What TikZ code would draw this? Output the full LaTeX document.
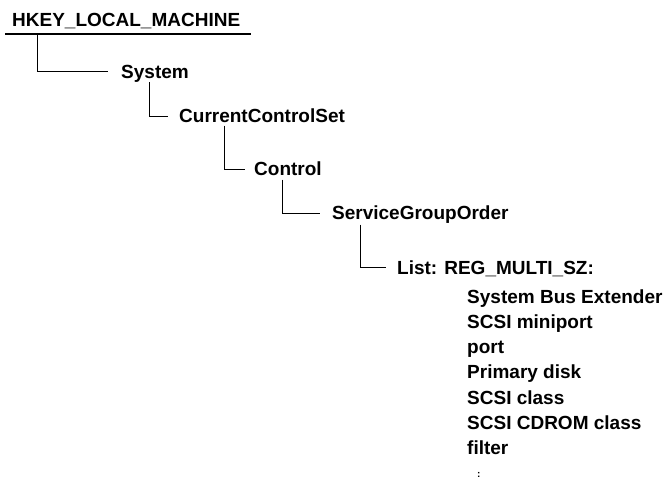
\documentclass[tikz,border=0pt]{standalone}
\usepackage{fontspec}
\setmainfont{Liberation Sans}
\usetikzlibrary{calc}
\begin{document}
\begin{tikzpicture}[x=1pt,y=-1pt,
  keytext/.style={font=\fontsize{19}{22}\selectfont\bfseries, inner sep=0pt, anchor=base west},
  link/.style={draw=black, line width=0.9pt},
  rule/.style={draw=black, line width=1.8pt}]
\useasboundingbox (0,0) rectangle (663,479);
\node[keytext] (hkey) at (12,26) {HKEY\_LOCAL\_MACHINE};
\coordinate (ulL) at (5,34);
\coordinate (ulR) at (251,34);
\draw[rule] (ulL) -- (ulR);
\node[keytext] (sys) at (121,78) {System};
\node[keytext] (ccs) at (179,122.5) {CurrentControlSet};
\node[keytext] (ctl) at (254,175.5) {Control};
\node[keytext] (sgo) at (332,219.5) {ServiceGroupOrder};
\node[keytext] (lst) at (397,274) {List: REG\_MULTI\_SZ:};
\node[keytext] (i1) at (467,303) {System Bus Extender};
\node[keytext] (i2) at (467,328.3) {SCSI miniport};
\node[keytext] (i3) at (467,353.6) {port};
\node[keytext] (i4) at (467,378.9) {Primary disk};
\node[keytext] (i5) at (467,404.2) {SCSI class};
\node[keytext] (i6) at (467,429.5) {SCSI CDROM class};
\node[keytext] (i7) at (467,454.8) {filter};
\node[keytext, font=\fontsize{10}{12}\selectfont\bfseries] (dots) at (477,477.5) {:};
% connectors
\draw[link] ($(hkey.base west)+(25,8)$) |- ($(sys.base west)+(-13,-6.5)$);
\draw[link] ($(sys.base west)+(28.5,4)$) |- ($(ccs.base west)+(-11,-6.5)$);
\draw[link] ($(ccs.base west)+(45.5,3)$) |- ($(ctl.base west)+(-9,-6.5)$);
\draw[link] ($(ctl.base west)+(28,4)$) |- ($(sgo.base west)+(-12,-6.5)$);
\draw[link] ($(sgo.base west)+(28,5)$) |- ($(lst.base west)+(-11,-6.5)$);
\end{tikzpicture}
\end{document}
